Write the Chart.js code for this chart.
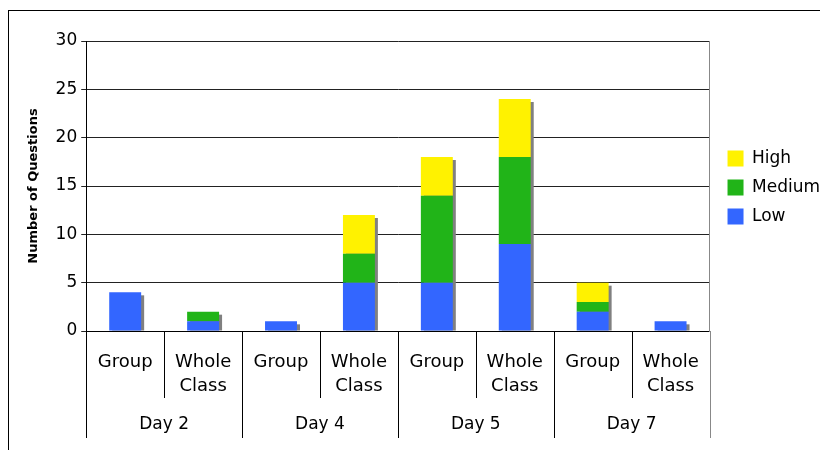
<!DOCTYPE html>
<html>
<head>
<meta charset="utf-8">
<script src="https://cdn.jsdelivr.net/npm/chart.js@4.4.0/dist/chart.umd.min.js"></script>
<style>
  html, body { margin: 0; padding: 0; background: #fff; }
  #wrap { position: relative; width: 820px; height: 450px; }
  #frame { position: absolute; left: 8px; top: 10px; width: 900px; height: 500px; border: 1px solid #000; }
  canvas { position: absolute; left: 0; top: 0; }
</style>
</head>
<body>
<div id="wrap">
  <div id="frame"></div>
  <canvas id="chart" width="820" height="450"></canvas>
</div>
<script>
// categories
const sessions = ["Group", ["Whole", "Class"], "Group", ["Whole", "Class"], "Group", ["Whole", "Class"], "Group", ["Whole", "Class"]];
const days = ["Day 2", "Day 4", "Day 5", "Day 7"];

// number of questions by level
const low = [4, 1, 1, 5, 5, 9, 2, 1];
const medium = [0, 1, 0, 3, 9, 9, 1, 0];
const high = [0, 0, 0, 4, 4, 6, 2, 0];

const yTicks = [0, 5, 10, 15, 20, 25, 30];

const FONT = "'DejaVu Sans', Verdana, sans-serif";

// grey drop shadow behind each stacked column
const barShadow = {
  id: 'barShadow',
  beforeDatasetsDraw(chart) {
    const ctx = chart.ctx;
    const metas = chart.data.datasets.map((d, i) => chart.getDatasetMeta(i));
    ctx.save();
    ctx.fillStyle = '#808080';
    for (let i = 0; i < sessions.length; i++) {
      let top = null, base = null, x = null, w = null;
      metas.forEach((m, di) => {
        const el = m.data[i];
        if (!el || !chart.data.datasets[di].data[i]) return;
        const p = el.getProps(['x', 'y', 'base', 'width'], true);
        if (top === null || p.y < top) top = p.y;
        if (base === null || p.base > base) base = p.base;
        x = p.x; w = p.width;
      });
      if (top === null) continue;
      ctx.fillRect(x - w / 2 + 3, top + 3, w, base - top - 3);
    }
    ctx.restore();
  }
};

// separators between the category labels below the axis
const labelGrid = {
  id: 'labelGrid',
  afterDraw(chart) {
    const xs = chart.scales.x;
    const ds = chart.scales.day;
    const ctx = chart.ctx;
    const step = (xs.right - xs.left) / sessions.length;
    ctx.save();
    ctx.lineWidth = 1;
    for (let i = 0; i <= sessions.length; i++) {
      const x = Math.round(xs.left + i * step) + 0.5;
      const bottom = i % 2 === 0 ? ds.bottom : xs.bottom;
      ctx.strokeStyle = i === sessions.length ? '#888' : '#000';
      ctx.beginPath();
      ctx.moveTo(x, xs.top);
      ctx.lineTo(x, bottom);
      ctx.stroke();
    }
    ctx.restore();
  }
};

new Chart(document.getElementById('chart'), {
  type: 'bar',
  data: {
    labels: sessions,
    datasets: [
      { label: 'Low', data: low, backgroundColor: '#3366ff' },
      { label: 'Medium', data: medium, backgroundColor: '#21b418' },
      { label: 'High', data: high, backgroundColor: '#fff200' }
    ]
  },
  options: {
    responsive: false,
    animation: false,
    devicePixelRatio: 1,
    barPercentage: 0.41,
    categoryPercentage: 1,
    layout: { padding: { left: 18, top: 41, right: -10, bottom: 12 } },
    scales: {
      x: {
        stacked: true,
        grid: { display: false, drawTicks: false },
        border: { display: true, color: '#000' },
        ticks: { color: '#000', padding: 19, maxRotation: 0, autoSkip: false, font: { family: FONT, size: 18, lineHeight: 1.33 } },
        afterFit: axis => { axis.height = 67; }
      },
      day: {
        type: 'category',
        labels: days,
        position: 'bottom',
        offset: true,
        grid: { display: false, drawTicks: false },
        border: { display: false },
        ticks: { color: '#000', padding: 15, font: { family: FONT, size: 17, lineHeight: 1.33 } },
        afterFit: axis => { axis.height = 40; }
      },
      y: {
        stacked: true,
        min: 0,
        max: 30,
        afterBuildTicks: axis => { axis.ticks = yTicks.map(v => ({ value: v })); },
        grid: { color: '#222', tickLength: 5 },
        border: { color: '#000' },
        ticks: { color: '#000', padding: 4, font: { family: FONT, size: 17 } },
        title: { display: true, text: 'Number of Questions', color: '#000', padding: { top: 8, bottom: 10 }, font: { family: FONT, size: 13, weight: 'bold' } }
      },
      edge: {
        type: 'linear',
        position: 'right',
        min: 0,
        max: 30,
        grid: { drawOnChartArea: false, tickLength: 6, color: 'rgba(0,0,0,0)' },
        border: { color: '#888' },
        ticks: { display: false }
      }
    },
    plugins: {
      tooltip: { enabled: false },
      legend: {
        position: 'right',
        align: 'start',
        reverse: true,
        title: { display: true, text: '', padding: { top: 85, bottom: 0 }, font: { size: 10 } },
        labels: { color: '#000', boxWidth: 16, boxHeight: 16, padding: 12, font: { family: FONT, size: 17 } }
      }
    }
  },
  plugins: [barShadow, labelGrid]
});
</script>
</body>
</html>
